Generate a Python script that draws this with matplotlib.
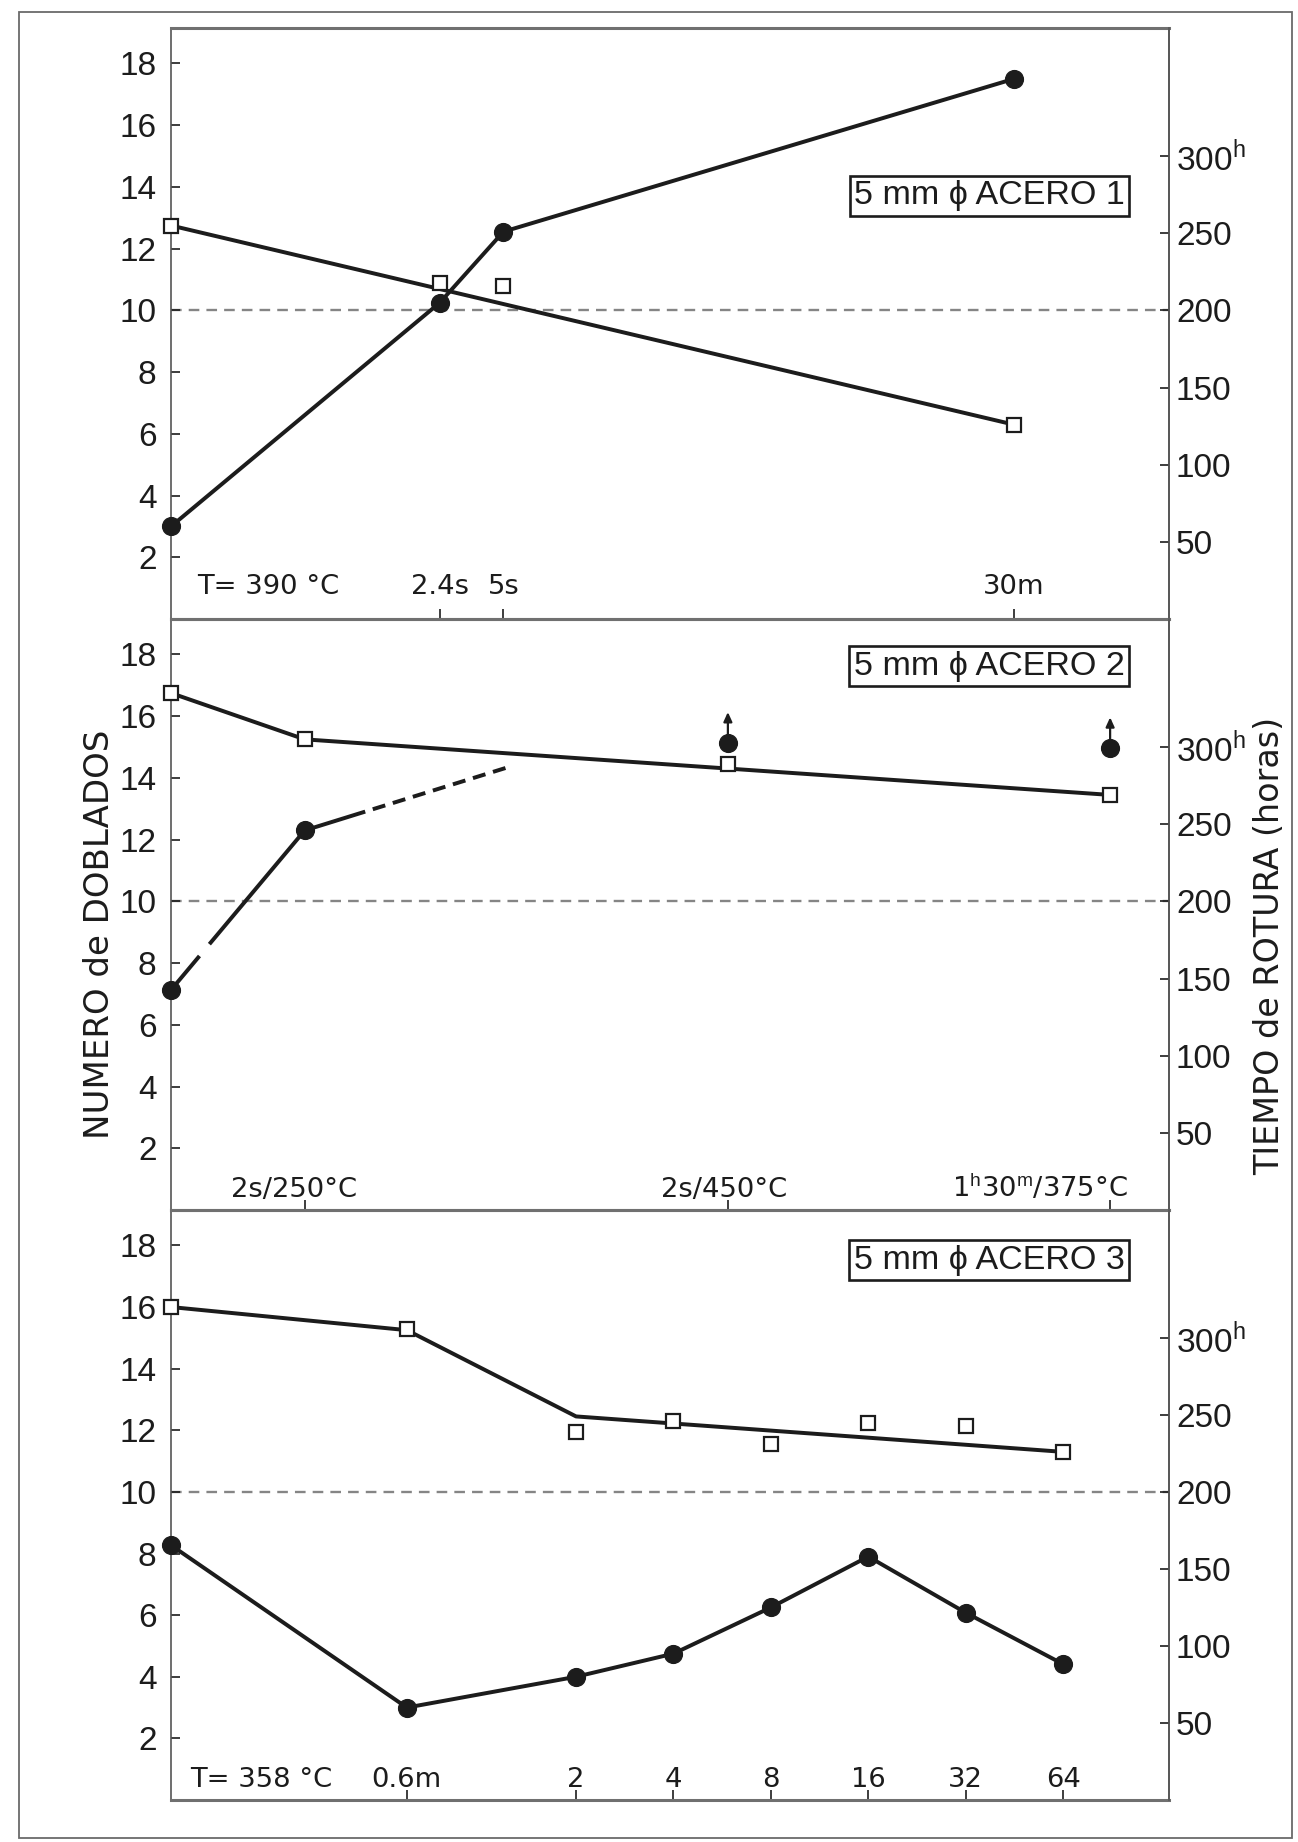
import numpy as np
import matplotlib
matplotlib.use("Agg")
import matplotlib.pyplot as plt
from matplotlib.patches import Rectangle
from matplotlib.ticker import NullLocator
from matplotlib.transforms import blended_transform_factory, offset_copy

# ------------------------------------------------------------------
# Data: bends to failure (filled circles, left axis) and time to
# rupture in hours (open squares, right axis); first value of every
# series is the untreated wire, drawn at the axis origin.
# ------------------------------------------------------------------
# ACERO 1 -- treated at T = 390 °C, times in seconds
acero1_tiempo_s = [2.4, 5.0, 1800.0]
acero1_etiquetas = ["2.4s", "5s", "30m"]
acero1_doblados = [3.0, 10.25, 12.55, 17.5]
acero1_rotura_h = [255, 218, 216, 126]
acero1_tendencia_idx = [0, 3]
acero1_tendencia_h = [255, 126]

# ACERO 2 -- three different treatments
acero2_tratamientos = ["2s/250°C", "2s/450°C",
                       r"1$^{\mathrm{h}}$30$^{\mathrm{m}}$/375°C"]
acero2_doblados = [7.13, 12.3, 15.13, 14.96]
acero2_rotura_h = [335, 305, 289, 269]
acero2_tendencia_idx = [0, 1, 3]
acero2_tendencia_h = [335, 305, 269]
acero2_extrapolacion = [12.3, 14.37]
acero2_sin_rotura = [2, 3]          # specimens that did not break

# ACERO 3 -- treated at T = 358 °C, times in minutes
acero3_tiempo_min = [0.6, 2, 4, 8, 16, 32, 64]
acero3_etiquetas = ["0.6m", "2", "4", "8", "16", "32", "64"]
acero3_doblados = [8.27, 3.0, 4.0, 4.75, 6.25, 7.9, 6.08, 4.41]
acero3_rotura_h = [320, 306, 239, 246, 231, 245, 243, 226]
acero3_tendencia_idx = [0, 1, 2, 7]
acero3_tendencia_h = [320, 305, 249, 226]

ticks_doblados = [2, 4, 6, 8, 10, 12, 14, 16, 18]
ticks_horas = [50, 100, 150, 200, 250, 300]
etiquetas_horas = ["50", "100", "150", "200", "250", r"300$^{\mathrm{h}}$"]
titulos = ["5 mm ϕ ACERO 1", "5 mm ϕ ACERO 2", "5 mm ϕ ACERO 3"]
temperaturas = ["T= 390 °C", None, "T= 358 °C"]
referencia_doblados = 10

# ------------------------------------------------------------------
# Layout and style
# ------------------------------------------------------------------
W, H = 1298, 1842
AX_LEFT, AX_RIGHT = 171, 1169            # px
PANEL_EDGES = [28, 619, 1210, 1800]      # px from the top
YMAX = 19.15
HOURS_PER_BEND = 20                      # 200 h sits on 10 bends
XLIM1 = (0.108, 10800.0)                 # s, log10
XLIM3 = (0.112, 136.0)                   # min, log2
SLOTS2 = [0.0, 0.134, 0.558, 0.941]      # treatment slots, panel 2
EXTRAP_END2 = 0.340
LABEL_X2 = [0.123, 0.554, 0.871]
LABEL_Y = [0.042, 0.022, 0.022]
BOX_XY = [(0.82, 0.716), (0.82, 0.920), (0.82, 0.915)]

INK = "#1c1c1c"
SPINE = "#555555"
LW = 2.85
NUMFONT = ["Liberation Sans", "DejaVu Sans"]
PLAIN = ["DejaVu Sans"]

plt.rcParams["font.family"] = PLAIN
plt.rcParams["mathtext.fontset"] = "custom"
plt.rcParams["mathtext.rm"] = "Liberation Sans"

fig = plt.figure(figsize=(W / 100, H / 100), dpi=100)
fig.patch.set_facecolor("white")

# outer frame of the sheet
fig.add_artist(Rectangle((19 / W, 1 - 1838 / H), (1292 - 19) / W, (1838 - 12) / H,
                         transform=fig.transFigure, fill=False,
                         ec="#6a6a6a", lw=1.3))


def make_panel(i):
    top = 1 - PANEL_EDGES[i] / H
    bot = 1 - PANEL_EDGES[i + 1] / H
    ax = fig.add_axes([AX_LEFT / W, bot, (AX_RIGHT - AX_LEFT) / W, top - bot])
    ax.patch.set_alpha(0)
    axr = ax.twinx()
    ax.set_ylim(0, YMAX)
    axr.set_ylim(0, YMAX * HOURS_PER_BEND)

    ax.set_yticks(ticks_doblados, [str(t) for t in ticks_doblados],
                  fontsize=24, fontfamily=NUMFONT)
    axr.set_yticks(ticks_horas, etiquetas_horas, fontsize=24, fontfamily=NUMFONT)
    ax.tick_params(axis="y", direction="in", length=6.5, width=1.2,
                   pad=10.5, colors=INK)
    axr.tick_params(axis="y", direction="in", length=6.5, width=1.2,
                    pad=5, colors=INK)
    ax.tick_params(axis="x", direction="in", length=7.5, width=1.2,
                   colors=INK, labelbottom=False, top=False)

    for name in ["left", "right"]:
        ax.spines[name].set(color=SPINE, lw=1.2)
    for name in ["top", "bottom"]:
        ax.spines[name].set(color="#707070", lw=2.2)
    for name in ["left", "top", "bottom"]:
        axr.spines[name].set_visible(False)
    axr.spines["right"].set(color=SPINE, lw=1.2)

    ax.axhline(referencia_doblados, color="#858585", lw=1.7,
               ls=(0, (4.5, 3.0)), zorder=1)

    bx, by = BOX_XY[i]
    ax.text(bx, by, titulos[i], transform=ax.transAxes,
            ha="center", va="center", fontsize=24.5, fontfamily=NUMFONT,
            color=INK, zorder=6,
            bbox=dict(boxstyle="square,pad=0.13", fc="white", ec=INK, lw=1.9))
    return ax, axr


def x_labels(ax, xs, labels, y):
    tr = blended_transform_factory(ax.transData, ax.transAxes)
    for x, lab in zip(xs, labels):
        ax.text(x, y, lab, transform=tr, ha="center", va="baseline",
                fontsize=19.7, color=INK)


circle = dict(marker="o", ms=12.8, mfc=INK, mec=INK, clip_on=False)
square = dict(ls="none", marker="s", ms=10.5, mfc="white", mec=INK, mew=1.6,
              clip_on=False, zorder=5)

# ---------------- ACERO 1 ----------------
ax1, ax1r = make_panel(0)
ax1.set_xscale("log")
ax1.set_xlim(*XLIM1)
ax1.xaxis.set_minor_locator(NullLocator())
ax1.set_xticks(acero1_tiempo_s)
x1 = np.array([XLIM1[0]] + acero1_tiempo_s)
ax1.plot(x1, acero1_doblados, color=INK, lw=LW, zorder=3, **circle)
ax1r.plot(x1[acero1_tendencia_idx], acero1_tendencia_h, color=INK, lw=LW,
          zorder=2)
ax1r.plot(x1, acero1_rotura_h, **square)
x_labels(ax1, acero1_tiempo_s, acero1_etiquetas, LABEL_Y[0])
ax1.text(0.026, LABEL_Y[0], temperaturas[0], transform=ax1.transAxes,
         ha="left", va="baseline", fontsize=19.7, color=INK)

# ---------------- ACERO 2 ----------------
ax2, ax2r = make_panel(1)
ax2.set_xlim(0, 1)
ax2.set_xticks(SLOTS2[1:])
x2 = np.array(SLOTS2)
ax2.plot(x2[:2], acero2_doblados[:2], color=INK, lw=LW, zorder=3,
         ls=(0, (11.2, 3.9, 60, 2)), dash_capstyle="butt")
ax2.plot([x2[1], EXTRAP_END2], acero2_extrapolacion, color=INK, lw=LW, zorder=3,
         ls=(0, (16, 2.0) + (3.3, 2.0) * 6 + (3.3, 30)), dash_capstyle="butt")
ax2.plot(x2, acero2_doblados, ls="none", zorder=4, **circle)
for k in acero2_sin_rotura:
    ax2.annotate("", xy=(x2[k], acero2_doblados[k]),
                 xycoords=offset_copy(ax2.transData, fig=fig, y=31, units="dots"),
                 xytext=(x2[k], acero2_doblados[k]),
                 textcoords=offset_copy(ax2.transData, fig=fig, y=8, units="dots"),
                 arrowprops=dict(arrowstyle="-|>,head_length=0.55,head_width=0.25",
                                 lw=1.6, color=INK, shrinkA=0, shrinkB=0))
ax2r.plot(x2[acero2_tendencia_idx], acero2_tendencia_h, color=INK, lw=LW,
          zorder=2)
ax2r.plot(x2, acero2_rotura_h, **square)
for xl, lab in zip(LABEL_X2, acero2_tratamientos):
    ax2.text(xl, LABEL_Y[1], lab, transform=ax2.transAxes, ha="center",
             va="baseline", fontsize=19.7, color=INK)

# ---------------- ACERO 3 ----------------
ax3, ax3r = make_panel(2)
ax3.set_xscale("log", base=2)
ax3.set_xlim(*XLIM3)
ax3.xaxis.set_minor_locator(NullLocator())
ax3.set_xticks(acero3_tiempo_min)
x3 = np.array([XLIM3[0]] + acero3_tiempo_min)
ax3.plot(x3, acero3_doblados, color=INK, lw=LW, zorder=3, **circle)
ax3r.plot(x3[acero3_tendencia_idx], acero3_tendencia_h, color=INK, lw=LW,
          zorder=2)
ax3r.plot(x3, acero3_rotura_h, **square)
x_labels(ax3, acero3_tiempo_min, acero3_etiquetas, LABEL_Y[2])
ax3.text(0.019, LABEL_Y[2], temperaturas[2], transform=ax3.transAxes,
         ha="left", va="baseline", fontsize=19.7, color=INK)

# axis titles
fig.text(100 / W, 0.4929, "NUMERO de DOBLADOS", rotation=90, ha="center",
         va="center", fontsize=24.5, color=INK)
fig.text(1270 / W, 0.4866, "TIEMPO de ROTURA (horas)", rotation=90, ha="center",
         va="center", fontsize=24, color=INK)

fig.savefig("out.png", dpi=100, facecolor="white")
